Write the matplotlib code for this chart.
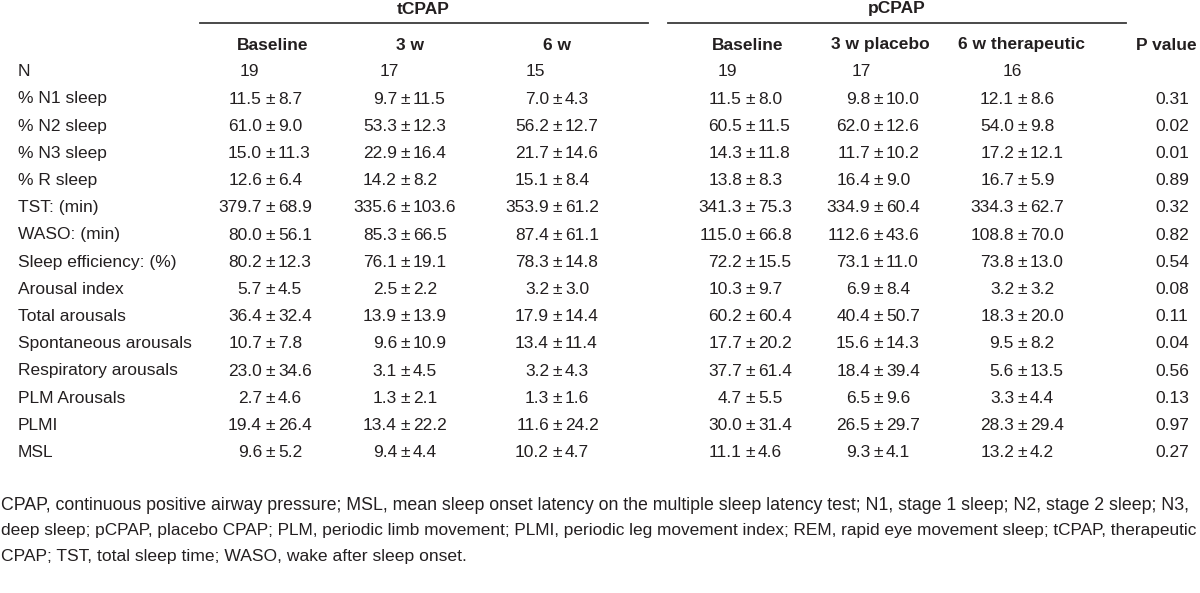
import matplotlib
matplotlib.use("Agg")
import matplotlib.pyplot as plt
from matplotlib import font_manager

names = {f.name for f in font_manager.fontManager.ttflist}
FONT = "Liberation Sans Narrow" if "Liberation Sans Narrow" in names else "Liberation Sans"

# ---------------- data ----------------
groups = ["tCPAP", "pCPAP"]
col_headers = ["Baseline", "3 w", "6 w", "Baseline", "3 w placebo", "6 w therapeutic", "P value"]
n_values = ["19", "17", "15", "19", "17", "16"]
row_labels = ["% N1 sleep", "% N2 sleep", "% N3 sleep", "% R sleep", "TST: (min)", "WASO: (min)",
              "Sleep efficiency: (%)", "Arousal index", "Total arousals", "Spontaneous arousals",
              "Respiratory arousals", "PLM Arousals", "PLMI", "MSL"]
means = [
    [11.5, 9.7, 7.0, 11.5, 9.8, 12.1],
    [61.0, 53.3, 56.2, 60.5, 62.0, 54.0],
    [15.0, 22.9, 21.7, 14.3, 11.7, 17.2],
    [12.6, 14.2, 15.1, 13.8, 16.4, 16.7],
    [379.7, 335.6, 353.9, 341.3, 334.9, 334.3],
    [80.0, 85.3, 87.4, 115.0, 112.6, 108.8],
    [80.2, 76.1, 78.3, 72.2, 73.1, 73.8],
    [5.7, 2.5, 3.2, 10.3, 6.9, 3.2],
    [36.4, 13.9, 17.9, 60.2, 40.4, 18.3],
    [10.7, 9.6, 13.4, 17.7, 15.6, 9.5],
    [23.0, 3.1, 3.2, 37.7, 18.4, 5.6],
    [2.7, 1.3, 1.3, 4.7, 6.5, 3.3],
    [19.4, 13.4, 11.6, 30.0, 26.5, 28.3],
    [9.6, 9.4, 10.2, 11.1, 9.3, 13.2],
]
sds = [
    [8.7, 11.5, 4.3, 8.0, 10.0, 8.6],
    [9.0, 12.3, 12.7, 11.5, 12.6, 9.8],
    [11.3, 16.4, 14.6, 11.8, 10.2, 12.1],
    [6.4, 8.2, 8.4, 8.3, 9.0, 5.9],
    [68.9, 103.6, 61.2, 75.3, 60.4, 62.7],
    [56.1, 66.5, 61.1, 66.8, 43.6, 70.0],
    [12.3, 19.1, 14.8, 15.5, 11.0, 13.0],
    [4.5, 2.2, 3.0, 9.7, 8.4, 3.2],
    [32.4, 13.9, 14.4, 60.4, 50.7, 20.0],
    [7.8, 10.9, 11.4, 20.2, 14.3, 8.2],
    [34.6, 4.5, 4.3, 61.4, 39.4, 13.5],
    [4.6, 2.1, 1.6, 5.5, 9.6, 4.4],
    [26.4, 22.2, 24.2, 31.4, 29.7, 29.4],
    [5.2, 4.4, 4.7, 4.6, 4.1, 4.2],
]
p_values = ["0.31", "0.02", "0.01", "0.89", "0.32", "0.82", "0.54", "0.08", "0.11", "0.04",
            "0.56", "0.13", "0.97", "0.27"]
footnote = [
    "CPAP, continuous positive airway pressure; MSL, mean sleep onset latency on the multiple sleep latency test; N1, stage 1 sleep; N2, stage 2 sleep; N3,",
    "deep sleep; pCPAP, placebo CPAP; PLM, periodic limb movement; PLMI, periodic leg movement index; REM, rapid eye movement sleep; tCPAP, therapeutic",
    "CPAP; TST, total sleep time; WASO, wake after sleep onset.",
]

# ---------------- layout ----------------
W, H = 1200, 593
fig = plt.figure(figsize=(W / 100, H / 100), dpi=100)
fig.patch.set_facecolor("white")
ax = fig.add_axes([0, 0, 1, 1])
ax.set_xlim(0, W)
ax.set_ylim(H, 0)
ax.axis("off")

TC = "#231f20"
FS = 12.5
kw = dict(family=FONT, color=TC, fontsize=FS, va="center")

group_x = [423, 897]
group_lines = [(200, 648), (668, 1126)]
col_x = [273, 410, 557, 748, 880, 1021, 1166]   # header centers
p_x = 1172
pm_x = [270, 405, 557, 750, 878, 1022]          # +/- alignment
n_x = [240, 380, 526, 718, 852, 1003]
label_x = 18
y_group, y_line, y_head, y_n = 9, 23, 44, 71
row_y0, row_dy = 99, 27.2

for g, gx, (x0, x1) in zip(groups, group_x, group_lines):
    ax.text(gx, y_group, g, ha="center", fontweight="bold", **kw)
    ax.plot([x0, x1], [y_line, y_line], color="#3a3a3a", lw=1.3)

for h, x in zip(col_headers, col_x):
    ax.text(x, y_head + 1, h, ha="center", fontweight="bold", **kw)

ax.text(label_x, y_n, "N", ha="left", **kw)
for v, x in zip(n_values, n_x):
    ax.text(x, y_n, v, ha="left", **kw)

for i, lab in enumerate(row_labels):
    y = row_y0 + i * row_dy
    ax.text(label_x, y, lab, ha="left", **kw)
    for j in range(6):
        ax.text(pm_x[j] - 8, y, f"{means[i][j]:.1f}", ha="right", **kw)
        ax.text(pm_x[j], y, "±", ha="center", **kw)
        ax.text(pm_x[j] + 8, y, f"{sds[i][j]:.1f}", ha="left", **kw)
    ax.text(p_x, y, p_values[i], ha="center", **kw)

# footnote
foot_sizes = [12.8, 12.4, 12.6]
for k, (line, fs) in enumerate(zip(footnote, foot_sizes)):
    ax.text(1, 506 + k * 25, line, ha="left", **{**kw, "fontsize": fs})

fig.savefig("out.png", dpi=100, facecolor="white")
